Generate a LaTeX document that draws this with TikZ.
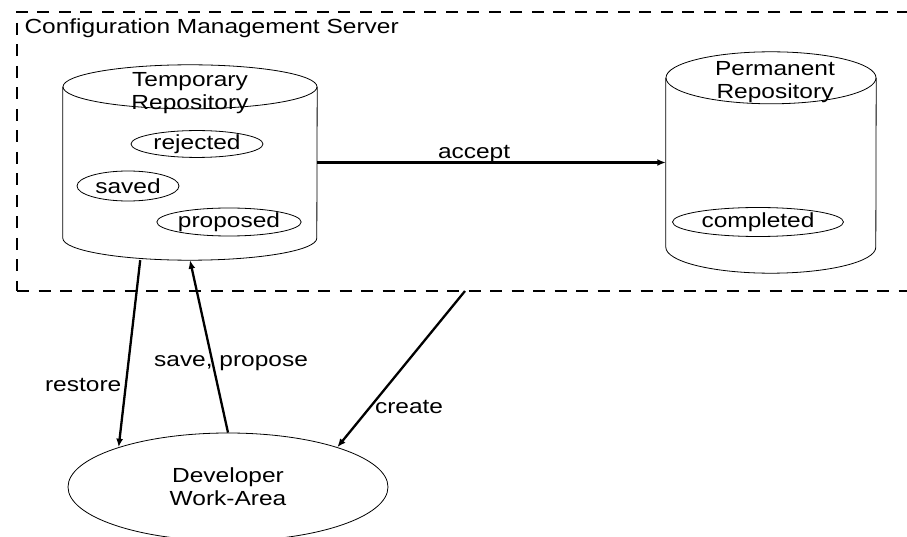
\documentclass[tikz,border=0pt]{standalone}
\usepackage{fontspec}
\setmainfont{Liberation Sans}[FakeStretch=1.2]
\usetikzlibrary{positioning,arrows.meta,shapes.geometric}

\begin{document}
\begin{tikzpicture}[x=1pt,y=-1pt,>={Latex[length=8.5pt,width=7pt]},
    font=\fontsize{20.4}{23}\selectfont]
  \tikzstyle{repo}=[rectangle,inner sep=0pt]
  \tikzstyle{state}=[ellipse,draw,line width=0.8pt,inner sep=0pt]
  \tikzstyle{flow}=[line width=2.3pt]
  \useasboundingbox (0,0) rectangle (907,537);

  % server frame and its title
  \node[draw,dashed,dash pattern=on 12pt off 9.5pt,line width=2pt,
        minimum width=930pt,minimum height=279pt,anchor=north west] (cms) at (16,11) {};
  \node[anchor=north west,xshift=5pt,yshift=-4pt] (cmstitle) at (cms.north west)
        {Configuration Management Server};

  % the two repositories, outlines drawn as cylinders
  \node[repo,minimum width=254pt,minimum height=195pt] (temp) at (190,162.5) {};
  \node[repo,minimum width=210pt,minimum height=221pt] (perm) at (771,162.5) {};
  \foreach \c/\w/\r in {temp/127/22,perm/105/26}{
    \draw[line width=0.8pt] ([yshift=-\r pt]\c.north) ellipse [x radius=\w pt,y radius=\r pt];
    \draw[line width=0.8pt] ([yshift=-\r pt]\c.north west) -- ([yshift=\r pt]\c.south west)
      arc [start angle=180,end angle=360,x radius=\w pt,y radius=\r pt]
      -- ([yshift=-\r pt]\c.north east);
  }
  \node[align=center,below=4pt of temp.north] (templbl) {Temporary\\Repository};
  \node[align=center,below=6pt of perm.north,xshift=4pt] (permlbl) {Permanent\\Repository};

  % states kept in them
  \node[state,minimum width=132pt,minimum height=26pt] (rej)  at (197,144) {rejected};
  \node[state,minimum width=102pt,minimum height=30pt] (sav)  at (128,186) {saved};
  \node[state,minimum width=133pt,minimum height=28pt] (prop) at (229,222) {proposed};
  \node[state,minimum width=171pt,minimum height=29pt] (comp) at (758,222) {completed};

  \node[state,minimum width=320pt,minimum height=108pt,align=center] (dev) at (228,487)
        {Developer\\Work-Area};
  \coordinate (crt) at (465,291);

  \path[->,flow]
  (temp)     edge node[pos=0.45,above,yshift=-5pt] {accept} (perm)
  (temp.243) edge node[pos=0.67,left] {restore} (dev.160)
  (dev.north) edge node[pos=0.42,xshift=19pt,yshift=-3pt] {save, propose} (temp.south)
  (crt)      edge node[pos=0.74,right] {create} (dev.20);
\end{tikzpicture}
\end{document}
